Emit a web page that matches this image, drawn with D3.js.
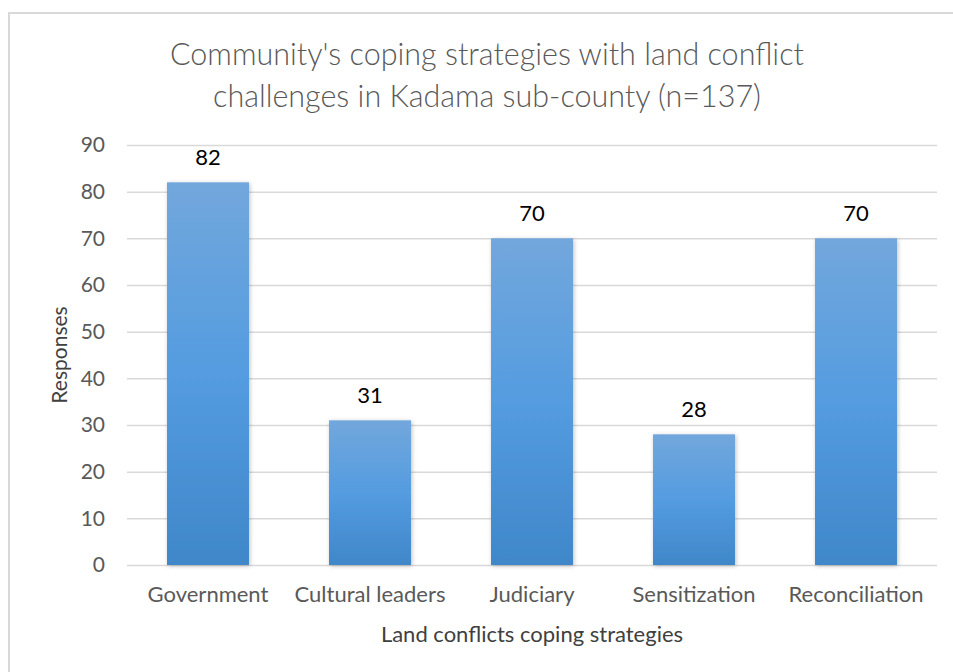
<!DOCTYPE html>
<html>
<head>
<meta charset="utf-8">
<script src="https://cdn.jsdelivr.net/npm/d3@7"></script>
<style>
  body { margin: 0; background: #fff; }
  svg { display: block; font-family: Lato, "Open Sans", sans-serif; }
</style>
</head>
<body>
<script>
// categorías y valores
const categories = ["Government", "Cultural leaders", "Judiciary", "Sensitization", "Reconciliation"];
const responses = [82, 31, 70, 28, 70];
const yTicks = [0, 10, 20, 30, 40, 50, 60, 70, 80, 90];
const titleLines = ["Community's coping strategies with land conflict", "challenges in Kadama sub-county (n=137)"];

const WIDTH = 953, HEIGHT = 672;
let margin = {top: 145, right: 16, bottom: 107, left: 127},
    width = WIDTH - margin.left - margin.right,
    height = HEIGHT - margin.top - margin.bottom;

let svg = d3.select("body").append("svg")
    .attr("width", WIDTH)
    .attr("height", HEIGHT);

// gradiente y sombra de las barras
let defs = svg.append("defs");
let grad = defs.append("linearGradient")
    .attr("id", "barGrad")
    .attr("x1", 0).attr("y1", 0).attr("x2", 0).attr("y2", 1);
grad.append("stop").attr("offset", "0%").attr("stop-color", "#72a7dc");
grad.append("stop").attr("offset", "50%").attr("stop-color", "#549ce0");
grad.append("stop").attr("offset", "100%").attr("stop-color", "#3f87c9");

let shadow = defs.append("filter").attr("id", "shadow")
    .attr("x", "-20%").attr("y", "-10%").attr("width", "140%").attr("height", "120%");
shadow.append("feDropShadow")
    .attr("dx", 1).attr("dy", 1).attr("stdDeviation", 2)
    .attr("flood-color", "#000").attr("flood-opacity", 0.25);

// marco del gráfico
svg.append("rect")
    .attr("x", 9).attr("y", 13)
    .attr("width", 960).attr("height", 700)
    .attr("fill", "none")
    .attr("stroke", "#d9d9d9")
    .attr("stroke-width", 2);

// título
svg.append("text")
    .attr("x", 487).attr("y", 65)
    .attr("text-anchor", "middle")
    .attr("font-size", 30.5)
    .attr("font-weight", 300)
    .attr("fill", "#595959")
    .selectAll("tspan")
    .data(titleLines)
    .enter().append("tspan")
        .attr("x", 487)
        .attr("dy", (d, i) => i === 0 ? 0 : 42)
        .text(d => d);

let chart = svg.append("g")
    .attr("transform", "translate(" + margin.left + "," + margin.top + ")");

let xScale = d3.scaleBand()
    .domain(categories)
    .range([0, width])
    .paddingInner(0.494)
    .paddingOuter(0.247);

let yScale = d3.scaleLinear()
    .domain([0, 90])
    .range([height, 0]);

// líneas de cuadrícula
let grid = chart.append("g")
    .call(d3.axisLeft(yScale).tickValues(yTicks).tickSize(-width).tickFormat(""));
grid.select(".domain").remove();
grid.selectAll("line").attr("stroke", "#d9d9d9").attr("stroke-width", 1.5);

// eje y
let yAxis = chart.append("g")
    .attr("class", "yAxis")
    .call(d3.axisLeft(yScale).tickValues(yTicks).tickSize(0).tickPadding(22));
yAxis.select(".domain").remove();
yAxis.selectAll("text")
    .attr("font-family", "Lato, sans-serif")
    .attr("font-size", 21)
    .attr("fill", "#595959");

// eje x
let xAxis = chart.append("g")
    .attr("class", "xAxis")
    .attr("transform", "translate(0," + height + ")")
    .call(d3.axisBottom(xScale).tickSize(0).tickPadding(21));
xAxis.select(".domain").remove();
xAxis.selectAll("text")
    .attr("font-family", "Lato, sans-serif")
    .attr("font-size", 22)
    .attr("fill", "#595959");

// barras
chart.selectAll(".bar")
    .data(responses)
    .enter().append("rect")
        .attr("class", "bar")
        .attr("x", (d, i) => xScale(categories[i]))
        .attr("y", d => yScale(d))
        .attr("width", xScale.bandwidth())
        .attr("height", d => height - yScale(d))
        .attr("fill", "url(#barGrad)")
        .attr("filter", "url(#shadow)");

// etiquetas de valores
chart.selectAll(".label")
    .data(responses)
    .enter().append("text")
        .attr("class", "label")
        .attr("x", (d, i) => xScale(categories[i]) + xScale.bandwidth() / 2)
        .attr("y", d => yScale(d) - 17)
        .attr("text-anchor", "middle")
        .attr("font-size", 22)
        .attr("fill", "#000")
        .text(d => d);

// títulos de ejes
svg.append("text")
    .attr("x", margin.left + width / 2)
    .attr("y", 642)
    .attr("text-anchor", "middle")
    .attr("font-size", 22)
    .attr("fill", "#404040")
    .text("Land conflicts coping strategies");

svg.append("text")
    .attr("transform", "translate(67," + (margin.top + height / 2) + ") rotate(-90)")
    .attr("text-anchor", "middle")
    .attr("font-size", 21)
    .attr("fill", "#404040")
    .text("Responses");
</script>
</body>
</html>
